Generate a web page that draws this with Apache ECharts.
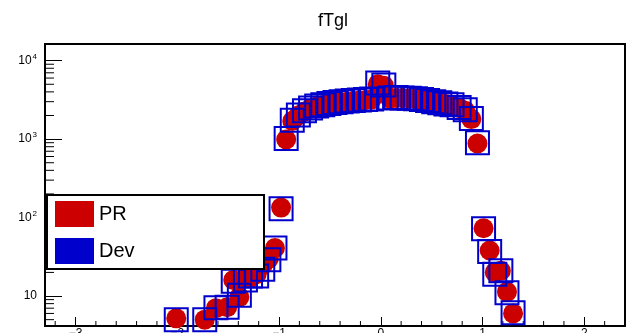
<!DOCTYPE html>
<html>
<head>
<meta charset="utf-8">
<script src="https://cdn.jsdelivr.net/npm/echarts@6/dist/echarts.min.js"></script>
<style>html,body{margin:0;padding:0;background:#fff}#c{width:627px;height:333px}</style>
</head>
<body>
<div id="c"></div>
<script>
// bin centres (tan lambda)
const xs = [-2.01, -1.73, -1.62, -1.51, -1.45, -1.39, -1.33, -1.28, -1.22, -1.16, -1.10, -1.04, -0.98,
  -0.93, -0.87, -0.81, -0.75, -0.69, -0.63, -0.57, -0.51, -0.45, -0.39, -0.33, -0.27, -0.21, -0.15, -0.09,
  -0.03, 0.03, 0.09, 0.15, 0.21, 0.28, 0.34, 0.40, 0.46, 0.52, 0.58, 0.64, 0.70, 0.77, 0.83, 0.89, 0.95,
  1.01, 1.07, 1.12, 1.18, 1.24, 1.30];
const prValues = [5.2, 5.0, 7.0, 7.2, 16, 9.7, 17, 17, 19, 25, 30, 41, 134,
  990, 1700, 2000, 2250, 2450, 2600, 2700, 2800, 2900, 2950, 3000, 3050, 3100, 3150, 3200,
  5000, 4800, 3300, 3350, 3350, 3300, 3250, 3150, 3050, 2950, 2850, 2800, 2700, 2500, 2300, 1800, 880,
  73, 38, 20, 21, 11.3, 6.0];
const devValues = [5.0, 5.0, 7.1, 7.2, 15.4, 10.2, 16, 18, 18, 22, 29, 41, 130,
  1020, 1740, 2030, 2300, 2500, 2650, 2750, 2850, 2920, 3000, 3050, 3100, 3150, 3200, 3250,
  5200, 4900, 3350, 3380, 3350, 3320, 3280, 3200, 3100, 3000, 2900, 2800, 2750, 2530, 2360, 1830, 900,
  72, 37, 19, 21, 11, 6.1];
const seriesNames = ['PR', 'Dev'];
const title = 'fTgl';

const X_MIN = -3.3, X_MAX = 2.4, Y_MIN = 4.15, Y_MAX = 16300;

// minor tick positions (axis decoration)
const yMinor = [];
for (let e = 0; e <= 3; e++) {
  for (let m = 2; m <= 9; m++) {
    const v = m * Math.pow(10, e);
    if (v > Y_MIN && v < Y_MAX) yMinor.push(v);
  }
}
const xMinor = [];
for (let i = -16; i <= 12; i++) {
  const v = Math.round(i * 2) / 10;
  if (v > X_MIN && v < X_MAX && Math.abs(v - Math.round(v)) > 1e-9) xMinor.push(v);
}

const chart = echarts.init(document.getElementById('c'), null, {renderer: 'canvas'});
const font = 'Liberation Sans, Arial, Helvetica, sans-serif';

chart.setOption({
  animation: false,
  backgroundColor: '#fff',
  title: {
    text: title, left: 318, top: 12, padding: 0,
    textStyle: {fontSize: 18, fontWeight: 'normal', color: '#000', fontFamily: font}
  },
  grid: {left: 45, top: 44, right: 2, bottom: 7, show: true, borderColor: '#000', borderWidth: 2,
    containLabel: false, outerBoundsMode: 'none'},
  xAxis: {
    type: 'value', min: X_MIN, max: X_MAX, splitNumber: 5,
    axisLine: {show: true, onZero: false, lineStyle: {color: '#000', width: 2}},
    axisTick: {show: true, inside: true, length: 9, lineStyle: {color: '#000', width: 1}},
    splitLine: {show: false},
    axisLabel: {
      show: true, margin: 2, fontSize: 12, color: '#000', fontFamily: font,
      showMinLabel: false, showMaxLabel: false,
      formatter: function (v) {
        if (Math.abs(v - Math.round(v)) > 1e-9) return '';
        return String(Math.round(v)).replace('-', '\u2212');
      }
    }
  },
  yAxis: {
    type: 'log', logBase: 10, min: Y_MIN, max: Y_MAX,
    axisLine: {show: true, onZero: false, lineStyle: {color: '#000', width: 2}},
    axisTick: {show: true, inside: true, length: 17, lineStyle: {color: '#000', width: 1}},
    splitLine: {show: false},
    axisLabel: {
      show: true, margin: 8, fontSize: 12, color: '#000', fontFamily: font,
      showMinLabel: false, showMaxLabel: false,
      formatter: function (v) {
        const e = Math.round(Math.log10(v));
        if (Math.abs(v - Math.pow(10, e)) > 1e-6 * v) return '';
        return e === 1 ? '10' : '10{s|' + e + '}';
      },
      rich: {s: {fontSize: 8, fontFamily: font, color: '#000', padding: [0, 0, 8, 1]}}
    }
  },
  legend: {
    data: [
      {name: seriesNames[0], itemStyle: {color: '#cc0000'}},
      {name: seriesNames[1], itemStyle: {color: '#0000cc', borderWidth: 0}}
    ],
    icon: 'rect', orient: 'vertical', left: 55, top: 201, padding: 0,
    itemWidth: 39, itemHeight: 26, itemGap: 11, selectedMode: false, z: 60,
    textStyle: {fontSize: 20, color: '#000', fontFamily: font}
  },
  graphic: {
    elements: [{
      type: 'rect', z: 50,
      shape: {x: 47, y: 195, width: 217, height: 74},
      style: {fill: '#fff', stroke: '#000', lineWidth: 2}
    }]
  },
  series: [
    {
      type: 'custom', silent: true, z: 3,
      data: yMinor.map(v => [X_MIN, v]),
      renderItem: function (params, api) {
        const p = api.coord([api.value(0), api.value(1)]);
        return {type: 'line', shape: {x1: p[0], y1: p[1], x2: p[0] + 9, y2: p[1]}, style: {stroke: '#000', lineWidth: 1}};
      }
    },
    {
      type: 'custom', silent: true, z: 3,
      data: xMinor.map(v => [v, Y_MIN]),
      renderItem: function (params, api) {
        const p = api.coord([api.value(0), api.value(1)]);
        return {type: 'line', shape: {x1: p[0], y1: p[1], x2: p[0], y2: p[1] - 5}, style: {stroke: '#000', lineWidth: 1}};
      }
    },
    {
      name: seriesNames[0], type: 'scatter', z: 4,
      symbol: 'circle', symbolSize: 20,
      itemStyle: {color: '#cc0000', opacity: 1},
      data: xs.map((x, i) => [x, prValues[i]])
    },
    {
      name: seriesNames[1], type: 'scatter', z: 5,
      symbol: 'rect', symbolSize: 23,
      itemStyle: {color: 'rgba(0,0,0,0)', borderColor: '#0000cc', borderWidth: 2, opacity: 1},
      data: xs.map((x, i) => [x, devValues[i]])
    }
  ]
});
</script>
</body>
</html>
